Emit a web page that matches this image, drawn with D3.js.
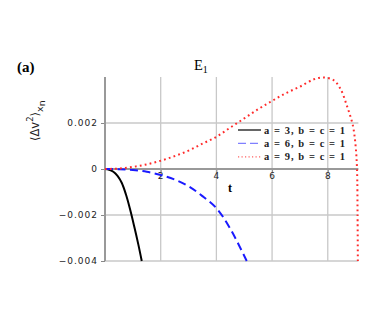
<!DOCTYPE html>
<html>
<head>
<meta charset="utf-8">
<script src="https://cdn.jsdelivr.net/npm/d3@7"></script>
<style>
  body { margin: 0; background: #fff; }
  svg { display: block; }
</style>
</head>
<body>
<svg id="chart" width="387" height="322"></svg>
<script>
const tA3 = [0, 0.15, 0.3, 0.45, 0.6, 0.75, 0.9, 1.05, 1.2, 1.32];
const vA3 = [0, -0.00003, -0.00012, -0.0003, -0.0006, -0.0011, -0.00175, -0.0025, -0.0033, -0.004];

const tA6 = [0, 0.5, 1, 1.5, 2, 2.5, 3, 3.5, 4, 4.5, 5.09];
const vA6 = [0, -0.00001, -0.00004, -0.00012, -0.00026, -0.00046, -0.00075, -0.00118, -0.0017, -0.0026, -0.004];

const tA9 = [0, 0.5, 1, 1.5, 2, 2.5, 3, 3.5, 4, 4.5, 5, 5.5, 6, 6.5, 7, 7.5, 7.85, 8.2, 8.45, 8.7, 8.9, 9.0, 9.05, 9.07, 9.08];
const vA9 = [0, 0.00002, 0.00009, 0.0002, 0.00036, 0.00056, 0.0008, 0.0011, 0.0014, 0.0018, 0.0022, 0.0026, 0.00296, 0.0033, 0.00358, 0.0039, 0.00398, 0.00387, 0.0035, 0.0027, 0.0019, 0.001, 0.0, -0.002, -0.004];

const legendLabels = ['a = 3, b = c = 1', 'a = 6, b = c = 1', 'a = 9, b = c = 1'];
const xTicks = [2, 4, 6, 8];
const yTicks = [0.002, 0, -0.002, -0.004];

const svg = d3.select('#chart');

const x = d3.scaleLinear().domain([0, 9.1]).range([105, 358.4]);
const y = d3.scaleLinear().domain([-0.004, 0.004]).range([261, 77]);

// grid
svg.append('g').selectAll('line').data(xTicks).enter().append('line')
  .attr('x1', d => x(d)).attr('x2', d => x(d))
  .attr('y1', y(0.004)).attr('y2', y(-0.004))
  .attr('stroke', '#c8c8c8').attr('stroke-width', 1.3);

svg.append('g').selectAll('line').data(yTicks.filter(d => d !== 0)).enter().append('line')
  .attr('x1', x(0)).attr('x2', x(9.1))
  .attr('y1', d => y(d)).attr('y2', d => y(d))
  .attr('stroke', '#c8c8c8').attr('stroke-width', 1.3);

// axes
const yAxis = d3.axisLeft(y).tickValues(yTicks)
  .tickFormat(d => d === 0 ? '0' : d3.format('.3f')(d).replace('-', '\u2212'))
  .tickSize(4).tickPadding(3);
const xAxis = d3.axisBottom(x).tickValues(xTicks).tickFormat(d3.format('d'))
  .tickSize(3).tickPadding(1);

const gy = svg.append('g').attr('transform', `translate(${x(0)},0)`).call(yAxis);
const gx = svg.append('g').attr('transform', `translate(0,${y(0)})`).call(xAxis);

[gx, gy].forEach(g => {
  g.select('.domain').remove();
  g.selectAll('line').attr('stroke', '#888');
  g.selectAll('text').attr('font-family', 'DejaVu Sans, sans-serif')
    .attr('font-size', 9).attr('letter-spacing', 1).attr('fill', '#222');
});

svg.append('line').attr('x1', x(0)).attr('x2', x(0))
  .attr('y1', y(0.004)).attr('y2', y(-0.004))
  .attr('stroke', '#999').attr('stroke-width', 2);
svg.append('line').attr('x1', x(0)).attr('x2', x(9.1))
  .attr('y1', y(0)).attr('y2', y(0))
  .attr('stroke', '#999').attr('stroke-width', 2);

// curves
const line = d3.line().x(d => x(d[0])).y(d => y(d[1])).curve(d3.curveCatmullRom.alpha(0.5));
const series = [
  { t: tA3, v: vA3, color: '#000', dash: null },
  { t: tA6, v: vA6, color: '#1a1aff', dash: '8,4.5' },
  { t: tA9, v: vA9, color: '#ff2a2a', dash: '1.8,3.2' }
];
series.forEach(s => {
  svg.append('path')
    .datum(s.t.map((t, i) => [t, s.v[i]]))
    .attr('d', line)
    .attr('fill', 'none')
    .attr('stroke', s.color)
    .attr('stroke-width', 2)
    .attr('stroke-dasharray', s.dash);
});

// legend
const legendColors = ['#000', '#8080ff', '#ff6060'];
const legendDash = [null, '8,4', '1.2,2.3'];
const lg = svg.append('g');
legendLabels.forEach((lab, i) => {
  const yy = 130 + i * 13.4;
  lg.append('line').attr('x1', 238).attr('x2', 261).attr('y1', yy).attr('y2', yy)
    .attr('stroke', legendColors[i]).attr('stroke-width', 1.2)
    .attr('stroke-dasharray', legendDash[i]);
  lg.append('text').attr('x', 264).attr('y', yy + 3.5)
    .attr('font-family', "'Liberation Serif', 'DejaVu Serif', serif").attr('font-weight', 'bold')
    .attr('font-size', 10.5).attr('fill', '#222')
    .attr('textLength', 81).attr('lengthAdjust', 'spacing').text(lab);
});

// titles
svg.append('text').attr('x', 17).attr('y', 72)
  .attr('font-family', "'Liberation Serif', 'DejaVu Serif', serif").attr('font-weight', 'bold')
  .attr('font-size', 15).text('(a)');

const title = svg.append('text').attr('x', 194).attr('y', 70)
  .attr('font-family', "'Liberation Serif', serif").attr('font-size', 14.5);
title.append('tspan').text('E');
title.append('tspan').attr('dy', 3).attr('font-size', 10).text('1');

svg.append('text').attr('x', 228).attr('y', 192)
  .attr('font-family', "'Liberation Serif', serif").attr('font-weight', 'bold')
  .attr('font-size', 12).text('t');

const yl = svg.append('text')
  .attr('transform', 'translate(39,141) rotate(-90)')
  .attr('font-family', 'DejaVu Sans, sans-serif').attr('font-size', 11.5).attr('fill', '#222');
yl.append('tspan').text('\u27E8\u0394v');
yl.append('tspan').attr('dy', -6).attr('font-size', 8.5).text('2');
yl.append('tspan').attr('dy', 6).text('\u27E9');
yl.append('tspan').attr('dy', 4).attr('font-size', 9.5).text('x');
yl.append('tspan').attr('dy', 2).attr('font-size', 9.5).text('n');
</script>
</body>
</html>
